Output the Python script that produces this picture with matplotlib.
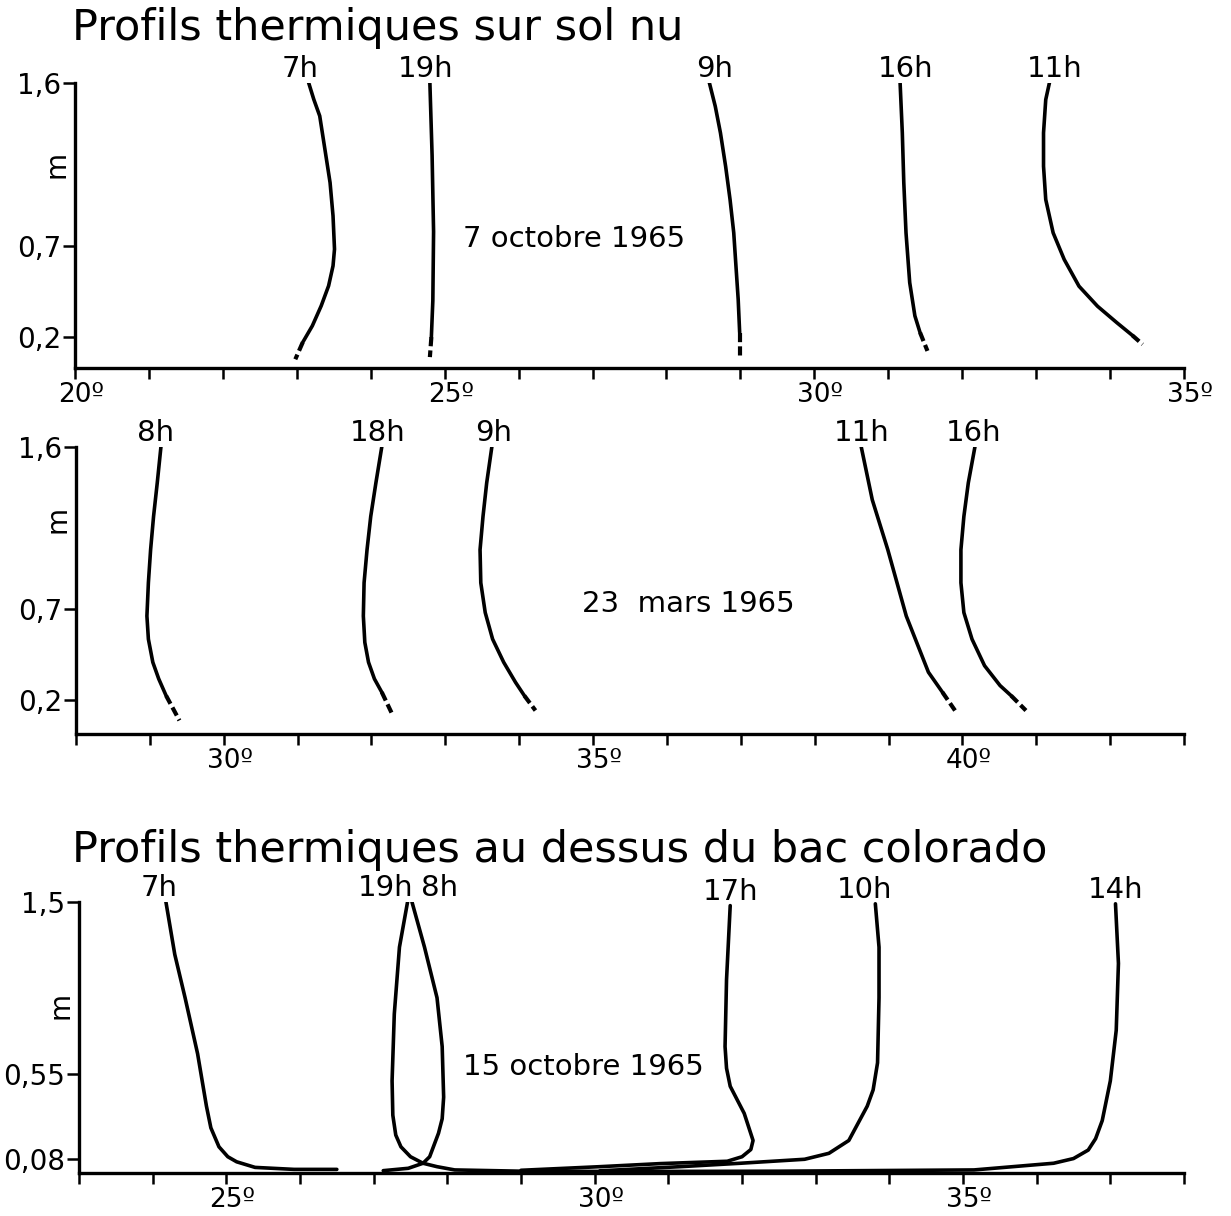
import matplotlib
matplotlib.use("Agg")
import matplotlib.pyplot as plt
from matplotlib.transforms import ScaledTranslation

# ---------------- data ----------------
# Panel 1 : Profils thermiques sur sol nu, 7 octobre 1965  (T en degres, z en m)
p1_hours = ["7h", "19h", "9h", "16h", "11h"]
p1_7h_T = [23.16, 23.23, 23.31, 23.38, 23.45, 23.49, 23.51, 23.49, 23.43, 23.33, 23.21, 23.08, 22.98]
p1_7h_z = [1.60, 1.508, 1.417, 1.234, 1.05, 0.867, 0.684, 0.592, 0.482, 0.372, 0.262, 0.171, 0.078]
p1_19h_T = [24.80, 24.83, 24.85, 24.84, 24.82, 24.80]
p1_19h_z = [1.60, 1.20, 0.78, 0.40, 0.20, 0.09]
p1_9h_T = [28.58, 28.66, 28.73, 28.80, 28.86, 28.91, 28.94, 28.97, 28.99, 28.99]
p1_9h_z = [1.60, 1.47, 1.324, 1.14, 0.957, 0.774, 0.59, 0.408, 0.225, 0.087]
p1_16h_T = [31.16, 31.19, 31.21, 31.24, 31.29, 31.36, 31.43, 31.53]
p1_16h_z = [1.60, 1.324, 1.05, 0.774, 0.50, 0.317, 0.225, 0.124]
p1_11h_T = [33.18, 33.13, 33.10, 33.10, 33.13, 33.23, 33.38, 33.58, 33.83, 34.09, 34.30, 34.44]
p1_11h_z = [1.60, 1.507, 1.324, 1.14, 0.957, 0.774, 0.627, 0.48, 0.37, 0.28, 0.21, 0.16]

# Panel 2 : 23 mars 1965
p2_hours = ["8h", "18h", "9h", "11h", "16h"]
p2_8h_T = [29.15, 29.10, 29.05, 29.01, 28.98, 28.96, 28.98, 29.04, 29.12, 29.22, 29.40]
p2_8h_z = [1.60, 1.40, 1.214, 1.03, 0.847, 0.663, 0.535, 0.407, 0.315, 0.222, 0.085]
p2_18h_T = [32.14, 32.06, 31.99, 31.94, 31.90, 31.89, 31.91, 31.96, 32.04, 32.14, 32.29]
p2_18h_z = [1.60, 1.40, 1.214, 1.03, 0.847, 0.663, 0.517, 0.407, 0.315, 0.241, 0.112]
p2_9h_T = [33.63, 33.56, 33.51, 33.47, 33.48, 33.54, 33.64, 33.79, 33.95, 34.07, 34.22]
p2_9h_z = [1.60, 1.40, 1.214, 1.03, 0.847, 0.682, 0.535, 0.407, 0.296, 0.222, 0.14]
p2_11h_T = [38.63, 38.78, 38.99, 39.24, 39.54, 39.73, 39.90]
p2_11h_z = [1.60, 1.306, 1.03, 0.663, 0.352, 0.241, 0.14]
p2_16h_T = [40.17, 40.08, 40.02, 39.98, 39.98, 40.02, 40.13, 40.30, 40.51, 40.66, 40.86]
p2_16h_z = [1.60, 1.40, 1.214, 1.03, 0.847, 0.682, 0.535, 0.388, 0.278, 0.222, 0.14]

# Panel 3 : au dessus du bac colorado, 15 octobre 1965
p3_hours = ["7h", "19h", "8h", "17h", "10h", "14h"]
p3_7h_T = [24.18, 24.30, 24.44, 24.61, 24.73, 24.79, 24.90, 25.02, 25.14, 25.39, 25.92, 26.50]
p3_7h_z = [1.50, 1.21, 0.97, 0.66, 0.37, 0.25, 0.145, 0.09, 0.062, 0.031, 0.020, 0.020]
p3_19h_T = [27.46, 27.35, 27.28, 27.25, 27.26, 27.30, 27.37, 27.50, 27.67, 27.86, 28.10, 29.00, 30.80]
p3_19h_z = [1.50, 1.25, 0.88, 0.51, 0.32, 0.21, 0.145, 0.09, 0.054, 0.035, 0.017, 0.010, 0.008]
p3_8h_T = [27.52, 27.69, 27.86, 27.93, 27.95, 27.93, 27.88, 27.76, 27.67, 27.47, 27.13]
p3_8h_z = [1.50, 1.25, 0.97, 0.70, 0.42, 0.30, 0.22, 0.09, 0.054, 0.026, 0.013]
p3_17h_T = [31.84, 31.79, 31.77, 31.79, 31.84, 32.03, 32.15, 32.12, 32.00, 31.80, 30.89, 30.07, 29.00]
p3_17h_z = [1.48, 1.07, 0.70, 0.58, 0.48, 0.33, 0.18, 0.13, 0.09, 0.065, 0.052, 0.035, 0.015]
p3_10h_T = [33.81, 33.86, 33.86, 33.84, 33.78, 33.70, 33.45, 33.18, 32.85, 31.98, 31.16, 30.07]
p3_10h_z = [1.49, 1.25, 0.97, 0.61, 0.46, 0.37, 0.18, 0.109, 0.076, 0.054, 0.035, 0.012]
p3_14h_T = [37.07, 37.11, 37.08, 37.00, 36.89, 36.80, 36.70, 36.50, 36.23, 35.15, 32.50, 30.07]
p3_14h_z = [1.49, 1.16, 0.79, 0.51, 0.29, 0.19, 0.127, 0.08, 0.054, 0.017, 0.010, 0.008]

# axes / ticks / texts
p1_xrange = [20, 35]
p2_xrange = [28, 43]
p3_xrange = [23, 38]
p1_xticklabels = {20: "20º", 25: "25º", 30: "30º", 35: "35º"}
p2_xticklabels = {30: "30º", 35: "35º", 40: "40º"}
p3_xticklabels = {25: "25º", 30: "30º", 35: "35º"}
p1_yticks = [1.6, 0.7, 0.2]
p1_yticklabels = ["1,6", "0,7", "0,2"]
p2_yticks = [1.6, 0.7, 0.2]
p2_yticklabels = ["1,6", "0,7", "0,2"]
p3_yticks = [1.5, 0.55, 0.08]
p3_yticklabels = ["1,5", "0,55", "0,08"]
p1_date = "7 octobre 1965"
p2_date = "23  mars 1965"
p3_date = "15 octobre 1965"
title_top = "Profils thermiques sur sol nu"
title_bottom = "Profils thermiques au dessus du bac colorado"

p1_curves = [(p1_7h_T, p1_7h_z), (p1_19h_T, p1_19h_z), (p1_9h_T, p1_9h_z),
             (p1_16h_T, p1_16h_z), (p1_11h_T, p1_11h_z)]
p2_curves = [(p2_8h_T, p2_8h_z), (p2_18h_T, p2_18h_z), (p2_9h_T, p2_9h_z),
             (p2_11h_T, p2_11h_z), (p2_16h_T, p2_16h_z)]
p3_curves = [(p3_7h_T, p3_7h_z), (p3_19h_T, p3_19h_z), (p3_8h_T, p3_8h_z),
             (p3_17h_T, p3_17h_z), (p3_10h_T, p3_10h_z), (p3_14h_T, p3_14h_z)]

# ---------------- drawing ----------------
plt.rcParams["font.family"] = ["DejaVu Sans"]
NARROW = ["Liberation Sans Narrow", "DejaVu Sans"]
fig = plt.figure(figsize=(12.31, 12.16), dpi=100)

W, H = 1231.0, 1216.0
def axes_px(left, right, top, bottom):
    return fig.add_axes([left / W, 1 - bottom / H, (right - left) / W, (bottom - top) / H])

ax1 = axes_px(75, 1184, 82.7, 368)
ax2 = axes_px(76, 1184, 446.7, 734)
ax3 = axes_px(79, 1184, 902, 1173)

LW = 2.6
TICKFS = 19
HOURFS = 21
DATEFS = 21

def style(ax, xr, xlabels, yticks, ylabels, ylim, m_y):
    ax.set_xlim(*xr)
    ax.set_ylim(*ylim)
    for s in ("top", "right"):
        ax.spines[s].set_visible(False)
    for s in ("left", "bottom"):
        ax.spines[s].set_linewidth(2.4)
        ax.spines[s].set_color("black")
    vals = list(range(xr[0], xr[1] + 1))
    ax.set_xticks(vals)
    ax.set_xticklabels([xlabels.get(v, "") for v in vals])
    ax.set_yticks(yticks)
    ax.set_yticklabels(ylabels)
    ax.tick_params(axis="x", direction="out", length=8, width=1.8, pad=2,
                   labelsize=TICKFS)
    ax.tick_params(axis="y", direction="out", length=9, width=1.8, pad=1,
                   labelsize=TICKFS + 1)
    shift = ScaledTranslation(6 / 100, 0, fig.dpi_scale_trans)
    for lab in ax.get_xticklabels():
        lab.set_transform(lab.get_transform() + shift)
    ax.text(-0.004, m_y, "m", transform=ax.get_yaxis_transform(), rotation=90,
            ha="right", va="center", fontsize=TICKFS + 1)

def label(ax, T, z, h, off):
    ax.annotate(h, xy=(T[0], z[0]), xytext=(off, 0), textcoords="offset points",
                ha="center", va="bottom", fontsize=HOURFS, family=NARROW,
                annotation_clip=False)

def draw_dashed_tail(ax, curves, hours, offsets):
    for (T, z), h, off in zip(curves, hours, offsets):
        ax.plot(T[:-1], z[:-1], color="black", lw=LW, solid_capstyle="round")
        ax.plot(T[-2:], z[-2:], color="black", lw=LW + 0.4, linestyle=(0, (2.2, 1.0)))
        label(ax, T, z, h, off)

style(ax1, p1_xrange, p1_xticklabels, p1_yticks, p1_yticklabels, (0.03, 1.6), 1.15)
style(ax2, p2_xrange, p2_xticklabels, p2_yticks, p2_yticklabels, (0.01, 1.6), 1.2)
style(ax3, p3_xrange, p3_xticklabels, p3_yticks, p3_yticklabels, (0.0, 1.5), 0.93)

draw_dashed_tail(ax1, p1_curves, p1_hours, [-6, -3, 4, 4, 4])
draw_dashed_tail(ax2, p2_curves, p2_hours, [-4, -3, 1, 0, -1])
for (T, z), h, off in zip(p3_curves, p3_hours, [-5, -16, 20, 0, -8, 0]):
    ax3.plot(T, z, color="black", lw=LW, solid_capstyle="round")
    label(ax3, T, z, h, off)

ax1.text(25.25, 0.74, p1_date, ha="left", va="center", fontsize=DATEFS)
ax2.text(36.29, 0.73, p2_date, ha="center", va="center", fontsize=DATEFS)
ax3.text(28.21, 0.585, p3_date, ha="left", va="center", fontsize=DATEFS)

fig.text(72 / W, 1 - 28 / H, title_top, ha="left", va="center", fontsize=31)
fig.text(72 / W, 1 - 850 / H, title_bottom, ha="left", va="center", fontsize=31)

fig.savefig("out.png", dpi=100, facecolor="white")
